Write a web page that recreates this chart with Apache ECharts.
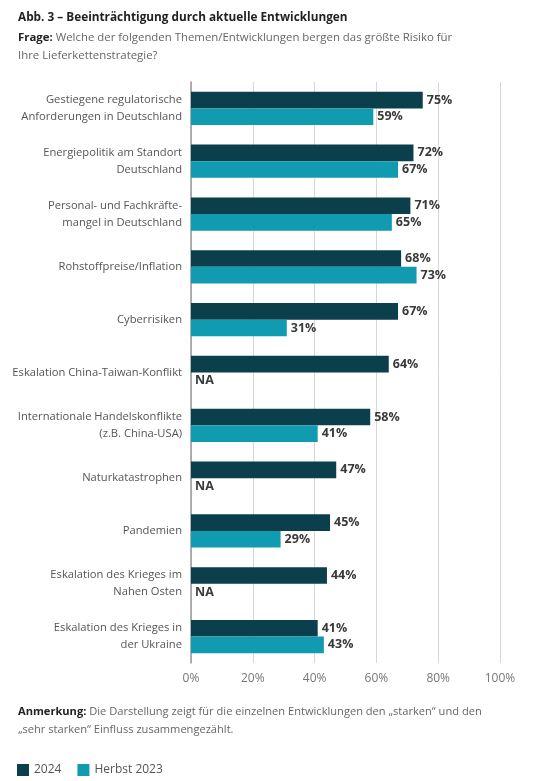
<!DOCTYPE html>
<html>
<head>
<meta charset="utf-8">
<script src="https://cdn.jsdelivr.net/npm/echarts@6/dist/echarts.min.js"></script>
<style>
  html, body { margin: 0; padding: 0; background: #fff; }
  #chart { width: 540px; height: 781px; }
</style>
</head>
<body>
<div id="chart"></div>
<script>
const categories = [
  'Gestiegene regulatorische\nAnforderungen in Deutschland',
  'Energiepolitik am Standort\nDeutschland',
  'Personal- und Fachkräfte-\nmangel in Deutschland',
  'Rohstoffpreise/Inflation',
  'Cyberrisiken',
  'Eskalation China-Taiwan-Konflikt',
  'Internationale Handelskonflikte\n(z.B. China-USA)',
  'Naturkatastrophen',
  'Pandemien',
  'Eskalation des Krieges im\nNahen Osten',
  'Eskalation des Krieges in\nder Ukraine'
]
const values2024 = [75, 72, 71, 68, 67, 64, 58, 47, 45, 44, 41]
const valuesHerbst2023 = [59, 67, 65, 73, 31, null, 41, null, 29, null, 43]
const xTicks = [0, 20, 40, 60, 80, 100]

const FONT = '"Open Sans", "Noto Sans", sans-serif'
const DARK = '#0c3f4c'
const TEAL = '#109bb0'

// missing values get an "NA" label at the axis
const herbstData = valuesHerbst2023.map(v =>
  v == null ? { value: 0, label: { formatter: 'NA' } } : v
)

const chart = echarts.init(document.getElementById('chart'))

const valueLabel = {
  show: true,
  position: 'right',
  distance: 4,
  formatter: '{c}%',
  color: '#3a3a3a',
  fontFamily: FONT,
  fontWeight: 'bold',
  fontSize: 12.5
}

chart.setOption({
  animation: false,
  textStyle: { fontFamily: FONT },
  graphic: [
    {
      type: 'text', left: 18, top: 12,
      style: {
        text: 'Abb. 3 – Beeinträchtigung durch aktuelle Entwicklungen',
        font: 'bold 11.8px ' + FONT, fill: '#222'
      }
    },
    {
      type: 'text', left: 18, top: 29,
      style: {
        text: '{b|Frage:} Welche der folgenden Themen/Entwicklungen bergen das größte Risiko für\nIhre Lieferkettenstrategie?',
        font: '11.4px ' + FONT, fill: '#666', lineHeight: 18,
        rich: {
          b: { font: 'bold 11.4px ' + FONT, fill: '#222', lineHeight: 18 }
        }
      }
    },
    {
      type: 'text', left: 18, top: 703,
      style: {
        text: '{b|Anmerkung:} Die Darstellung zeigt für die einzelnen Entwicklungen den „starken“ und den\n„sehr starken“ Einfluss zusammengezählt.',
        font: '11.1px ' + FONT, fill: '#666', lineHeight: 18,
        rich: {
          b: { font: 'bold 11.1px ' + FONT, fill: '#222', lineHeight: 18 }
        }
      }
    }
  ],
  legend: {
    left: 12,
    top: 759,
    itemWidth: 12,
    itemHeight: 12,
    itemGap: 16,
    icon: 'rect',
    textStyle: { color: '#555', fontSize: 12, fontFamily: FONT },
    data: ['2024', 'Herbst 2023']
  },
  grid: { left: 191, right: 40, top: 82, bottom: 118, containLabel: false },
  xAxis: {
    type: 'value',
    min: xTicks[0],
    max: xTicks[xTicks.length - 1],
    interval: 20,
    axisLine: { show: false },
    axisTick: { show: false },
    axisLabel: {
      formatter: '{value}%',
      color: '#777',
      fontSize: 12,
      margin: 10,
      fontFamily: FONT
    },
    splitLine: { show: true, lineStyle: { color: '#d6d6d6', width: 1 } }
  },
  yAxis: {
    type: 'category',
    inverse: true,
    data: categories,
    axisLine: { show: true, lineStyle: { color: '#999', width: 1.5 } },
    axisTick: { show: false },
    axisLabel: {
      color: '#555',
      fontSize: 11.2,
      lineHeight: 17,
      margin: 9,
      fontFamily: FONT
    }
  },
  series: [
    {
      name: '2024',
      type: 'bar',
      data: values2024,
      itemStyle: { color: DARK },
      barGap: '0%',
      barCategoryGap: '37%',
      label: valueLabel
    },
    {
      name: 'Herbst 2023',
      type: 'bar',
      data: herbstData,
      itemStyle: { color: TEAL },
      label: valueLabel
    }
  ]
})
</script>
</body>
</html>
